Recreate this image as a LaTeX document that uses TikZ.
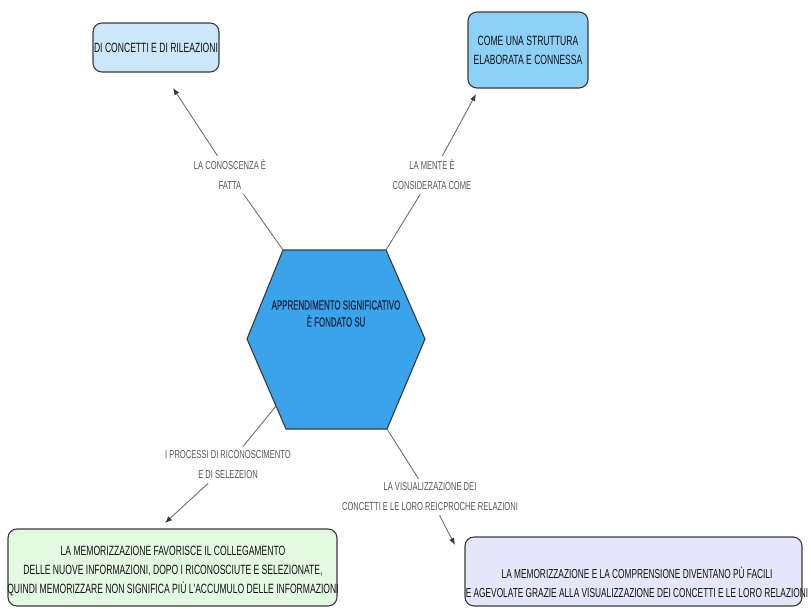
\documentclass[tikz,border=0pt]{standalone}
\usepackage{fontspec}
\setmainfont{Liberation Sans}[FakeStretch=0.7]
\newfontfamily\labelfont{Liberation Sans}[FakeStretch=0.66]
\newfontfamily\boxfont{Liberation Sans}[FakeStretch=0.64]
\newfontfamily\hexfont{Liberation Sans}[FakeStretch=0.6, FakeBold=0.4]
\usetikzlibrary{arrows.meta,calc}

\definecolor{edgegray}{HTML}{3A3A3A}
\definecolor{linkgray}{HTML}{6E6E6E}
\definecolor{labelgray}{HTML}{555555}
\definecolor{paleblue}{HTML}{CCE7FA}
\definecolor{skyblue}{HTML}{8FD0F6}
\definecolor{hexblue}{HTML}{3BA3EB}
\definecolor{palegreen}{HTML}{E4F9E2}
\definecolor{lavender}{HTML}{E6E6FA}
\definecolor{inkdark}{HTML}{111111}
\definecolor{hexink}{HTML}{1A2A44}

\tikzset{
  x=1pt, y=-1pt,
  conceptbox/.style={draw=edgegray, line width=1.1pt, rounded corners=9pt,
    inner sep=0pt, minimum width=#1},
  boxtext/.style={text=inkdark, align=center, inner sep=0pt,
    font=\boxfont\fontsize{13.4}{19}\selectfont},
  linklabel/.style={text=labelgray, align=center, inner sep=4pt,
    font=\labelfont\fontsize{11.5}{20}\selectfont},
  link/.style={draw=linkgray, line width=0.9pt},
  linkarrow/.style={link, -{Latex[length=7pt,width=5.5pt]}, arrows={[color=edgegray]}},
}

\begin{document}
\begin{tikzpicture}
\useasboundingbox (0,0) rectangle (811,608);

% upper concept boxes
\node[conceptbox=126pt, minimum height=49pt, fill=paleblue] (b1) at (156,47.5) {};
\node[boxtext] (b1t) at (b1) {DI CONCETTI E DI RILEAZIONI};

\node[conceptbox=120pt, minimum height=76pt, fill=skyblue] (b2) at (528,50) {};
\node[boxtext] (b2t) at (b2) {COME UNA STRUTTURA\\ELABORATA E CONNESSA};

% central hexagon
\node[minimum width=178pt, minimum height=179pt, inner sep=0pt] (hex) at (336,339.5) {};
\coordinate (hTL) at (283,250);
\coordinate (hTR) at (386,250);
\coordinate (hR)  at (425,339);
\coordinate (hBR) at (387,429);
\coordinate (hBL) at (286,429);
\coordinate (hL)  at (247,339);
\draw[draw=edgegray, line width=1.1pt, fill=hexblue, line join=round]
  (hTL) -- (hTR) -- (hR) -- (hBR) -- (hBL) -- (hL) -- cycle;
\node[text=hexink, align=center, inner sep=0pt,
      font=\hexfont\fontsize{13.2}{17}\selectfont] (hext) at (336,313.5)
  {APPRENDIMENTO SIGNIFICATIVO\\È FONDATO SU};
\coordinate (hLow) at (276,406);

% lower concept boxes
\node[conceptbox=329pt, minimum height=77pt, fill=palegreen] (b3) at (172.5,567.5) {};
\node[boxtext] (b3t) at (173,571)
  {LA MEMORIZZAZIONE FAVORISCE IL COLLEGAMENTO\\
   DELLE NUOVE INFORMAZIONI, DOPO I RICONOSCIUTE E SELEZIONATE,\\
   QUINDI MEMORIZZARE NON SIGNIFICA PIÙ L'ACCUMULO DELLE INFORMAZIONI};

\node[conceptbox=337pt, minimum height=69pt, fill=lavender] (b4) at (633.5,571.5) {};
\node[boxtext, font=\boxfont\fontsize{13}{19}\selectfont] (b4t) at (637,582.5)
  {LA MEMORIZZAZIONE E LA COMPRENSIONE DIVENTANO PÙ FACILI\\
   E AGEVOLATE GRAZIE ALLA VISUALIZZAZIONE DEI CONCETTI E LE LORO RELAZIONI};

% link labels
\node[linklabel] (l1) at (230,175) {LA CONOSCENZA È\\FATTA};
\node[linklabel] (l2) at (432,175) {LA MENTE È\\CONSIDERATA COME};
\node[linklabel] (l3) at (228,465) {I PROCESSI DI RICONOSCIMENTO\\E DI SELEZEION};
\node[linklabel] (l4) at (430,497) {LA VISUALIZZAZIONE DEI\\CONCETTI E LE LORO REICPROCHE RELAZIONI};

% arrow ends just short of the target boxes
\coordinate (t1) at (173,88);
\coordinate (t2) at (476,94);
\coordinate (t3) at (165,523);
\coordinate (t4) at (455,545);

% connectors
\draw[linkarrow] (hTL) -- (l1) -- (t1);
\draw[linkarrow] (hTR) -- (l2) -- (t2);
\draw[linkarrow] (hLow) -- (l3) -- (t3);
\draw[linkarrow] (hBR) -- (l4) -- (t4);
\end{tikzpicture}
\end{document}
